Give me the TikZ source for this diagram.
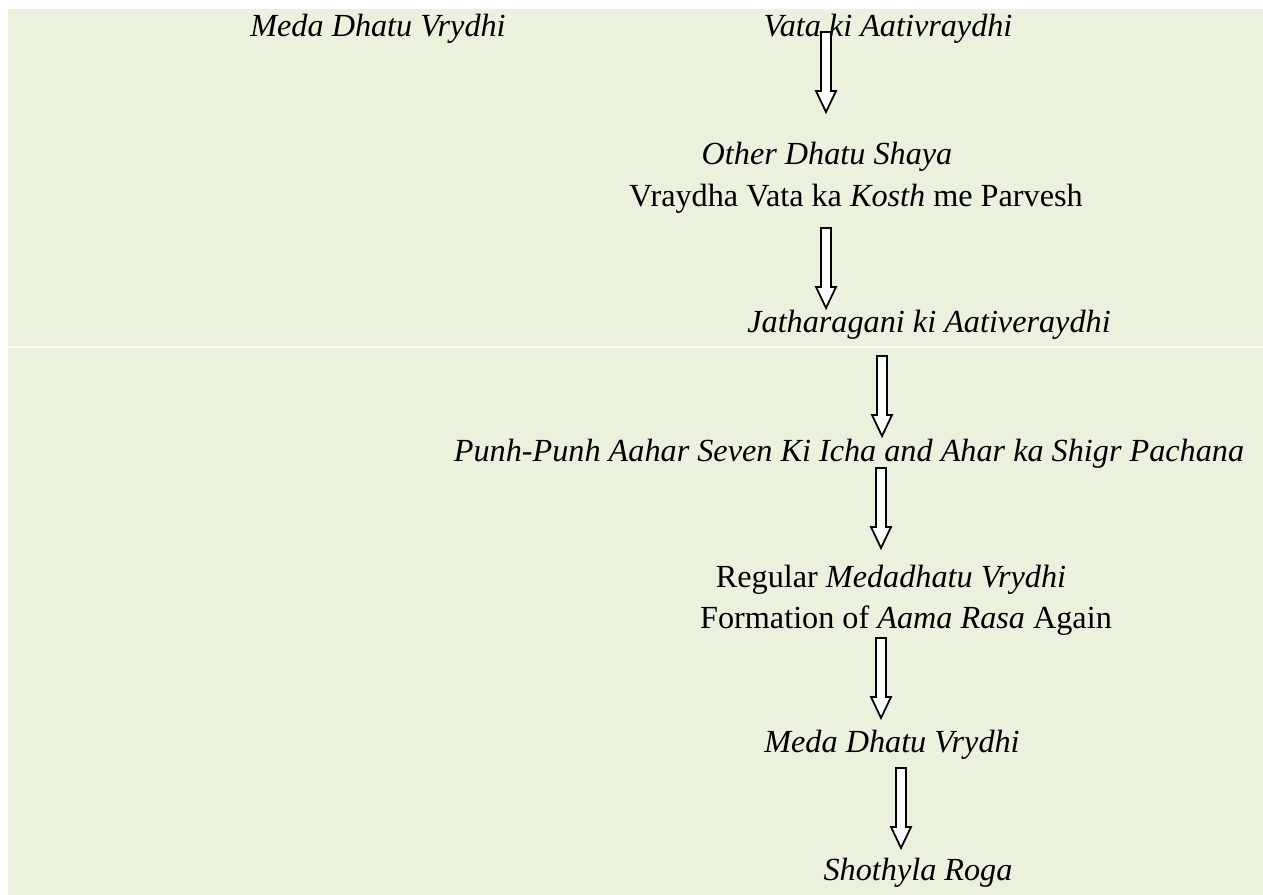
\documentclass[tikz,border=0pt]{standalone}
\usepackage{fontspec}
\setmainfont{Liberation Serif}
\definecolor{bgolive}{HTML}{EAF1DD}

\begin{document}
\begin{tikzpicture}[x=0.45pt, y=-0.45pt,
  txt/.style={anchor=base, inner sep=0pt, font=\fontsize{14.5}{17}\selectfont},
  harrow/.style={draw=black, fill=white, line width=0.8pt, line join=miter}]
\useasboundingbox (0,0) rectangle (1263,895);
\fill[bgolive] (8,9) rectangle (1263,895);
\draw[white, line width=0.7pt] (8,347) -- (1263,347);
% text of the chart
\node[txt] (meda) at (378,37) {\textit{Meda Dhatu Vrydhi}};
\node[txt] (vata) at (888,37) {\textit{Vata ki Aativraydhi}};
\node[txt] (other) at (827,165) {\textit{Other Dhatu Shaya}};
\node[txt] (kosth) at (856,207) {Vraydha Vata ka \textit{Kosth} me Parvesh};
\node[txt] (jathar) at (929,333) {\textit{Jatharagani ki Aativeraydhi}};
\node[txt] (punh) at (849,461) {\textit{Punh-Punh Aahar Seven Ki Icha and Ahar ka Shigr Pachana}};
\node[txt] (regular) at (891,587) {Regular \textit{Medadhatu Vrydhi}};
\node[txt] (aama) at (906,628) {Formation of \textit{Aama Rasa} Again};
\node[txt] (meda2) at (892,752) {\textit{Meda Dhatu Vrydhi}};
\node[txt] (shoth) at (918,880) {\textit{Shothyla Roga}};
% hollow arrows
\foreach \ax/\ay [count=\i] in {826/32, 826/228, 882/356, 881/468, 881/638, 901/768} {
  \coordinate (ar\i) at (\ax,\ay);
  \draw[harrow] (ar\i) ++(-5,0) -- ++(10,0) -- ++(0,59) -- ++(5,0)
    -- ++(-10,21) -- ++(-10,-21) -- ++(5,0) -- cycle;
}
\end{tikzpicture}
\end{document}
